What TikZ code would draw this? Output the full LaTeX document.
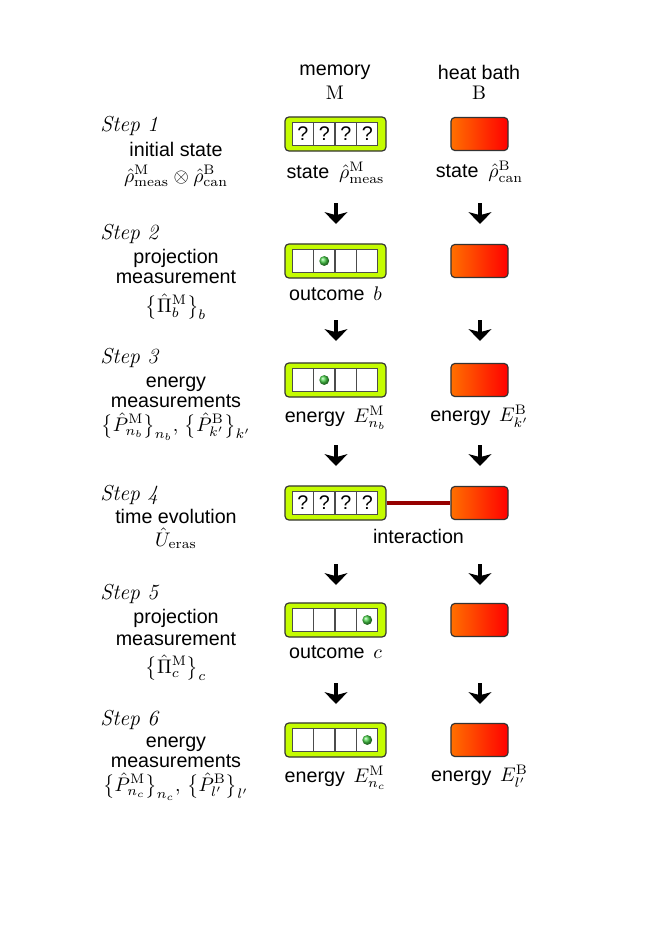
\documentclass[tikz,border=0pt]{standalone}
\usepackage{fontspec}
\setsansfont{Liberation Sans}
\usetikzlibrary{arrows.meta,positioning}

\definecolor{memgreen}{RGB}{196,252,0}
\definecolor{bathorange}{RGB}{255,112,0}
\definecolor{bathred}{RGB}{255,0,0}
\definecolor{linkred}{RGB}{150,0,0}
\definecolor{dotgreen}{RGB}{70,205,70}

\tikzset{
  membox/.style={draw=black!80, fill=memgreen, rounded corners=2pt, line width=0.6pt,
    minimum width=51.3pt, minimum height=17.3pt, inner sep=0pt},
  cell/.style={draw=black!70, fill=white, line width=0.5pt,
    minimum width=10.9pt, minimum height=11.2pt, inner sep=0pt},
  bath/.style={draw=black!80, rounded corners=2pt, line width=0.6pt,
    left color=bathorange, right color=bathred,
    minimum width=29pt, minimum height=16.8pt, inner sep=0pt},
  bit/.style={circle, inner sep=0pt, minimum size=5pt, shading=ball, ball color=dotgreen},
  qmark/.style={font=\sffamily, inner sep=0pt},
  head/.style={font=\sffamily},
  lab/.style={font=\sffamily, inner sep=1pt},
  stepname/.style={anchor=base west, font=\fontsize{11}{13}\selectfont\itshape, inner sep=0pt},
  desc/.style={anchor=base, font=\sffamily, inner sep=0pt},
  steparrow/.style={line width=2.5pt, -{Stealth[length=6pt, width=11.5pt, inset=1.5pt]}},
  link/.style={linkred, line width=2pt},
}

\begin{document}
\begin{tikzpicture}[x=0.508pt, y=-0.508pt]
\useasboundingbox (0,0) rectangle (655,926);

% column heads
\node[head] (memhead) at (335,72) {memory};
\node (memsym) at (335,93) {$\mathrm{M}$};
\node[head] (bathhead) at (479,72) {heat bath};
\node (bathsym) at (479,93) {$\mathrm{B}$};

% memory registers and heat bath, one row per step
\foreach \y [count=\r] in {134,261,380,503,620,740} {
  \node[membox] (mem\r) at (335.5,\y) {};
  \foreach \i in {1,...,4}
    \node[cell] (mem\r-\i) at (281.25+21.5*\i,\y) {};
  \node[bath] (bath\r) at (479.5,\y) {};
}

% unknown bits
\foreach \r in {1,4}
  \foreach \i in {1,...,4}
    \node[qmark] (q\r-\i) at (mem\r-\i) {?};

% measured bits
\node[bit] (bit2) at (mem2-2) {};
\node[bit] (bit3) at (mem3-2) {};
\node[bit] (bit5) at (mem5-4) {};
\node[bit] (bit6) at (mem6-4) {};

% coupling
\draw[link] (mem4.east) -- (bath4.west);
\node[desc] (interlab) at (418.5,543) {interaction};

% labels under the boxes
\node[lab, below=4pt of mem1] (memlab1) {state\enspace$\hat{\rho}^{\mathrm{M}}_{\mathrm{meas}}$};
\node[lab, below=4pt of bath1] (bathlab1) {state\enspace$\hat{\rho}^{\mathrm{B}}_{\mathrm{can}}$};
\node[lab, below=3pt of mem2] (memlab2) {outcome\ \,$b$};
\node[lab, below=3pt of mem3] (memlab3) {energy\ \,$E^{\mathrm{M}}_{n_b}$};
\node[lab, below=3pt of bath3] (bathlab3) {energy\ \,$E^{\mathrm{B}}_{k'}$};
\node[lab, below=3pt of mem5] (memlab5) {outcome\ \,$c$};
\node[lab, below=3pt of mem6] (memlab6) {energy\ \,$E^{\mathrm{M}}_{n_c}$};
\node[lab, below=3pt of bath6] (bathlab6) {energy\ \,$E^{\mathrm{B}}_{l'}$};

% arrows between the steps
\foreach \y [count=\i] in {213,330,455,574,693} {
  \coordinate (mtop\i) at (336,\y-10);
  \coordinate (mbot\i) at (336,\y+11);
  \coordinate (btop\i) at (480,\y-10);
  \coordinate (bbot\i) at (480,\y+11);
  \draw[steparrow] (mtop\i) -- (mbot\i);
  \draw[steparrow] (btop\i) -- (bbot\i);
}

% step descriptions
\node[stepname] (step1) at (100,131) {Step 1};
\node[desc] (desc1a) at (176,156) {initial state};
\node[desc] (desc1b) at (176,182) {$\hat{\rho}^{\mathrm{M}}_{\mathrm{meas}}\otimes\hat{\rho}^{\mathrm{B}}_{\mathrm{can}}$};

\node[stepname] (step2) at (100,239) {Step 2};
\node[desc] (desc2a) at (176,263) {projection};
\node[desc] (desc2b) at (176,283) {measurement};
\node[desc] (desc2c) at (176,312) {$\bigl\{\hat{\Pi}^{\mathrm{M}}_{b}\bigr\}_{b}$};

\node[stepname] (step3) at (100,363) {Step 3};
\node[desc] (desc3a) at (176,387) {energy};
\node[desc] (desc3b) at (176,407) {measurements};
\node[desc] (desc3c) at (176,431) {$\bigl\{\hat{P}^{\mathrm{M}}_{n_b}\bigr\}_{n_b},\,\bigl\{\hat{P}^{\mathrm{B}}_{k'}\bigr\}_{k'}$};

\node[stepname] (step4) at (100,500) {Step 4};
\node[desc] (desc4a) at (176,523) {time evolution};
\node[desc] (desc4b) at (176,546) {$\hat{U}_{\mathrm{eras}}$};

\node[stepname] (step5) at (100,599) {Step 5};
\node[desc] (desc5a) at (176,623) {projection};
\node[desc] (desc5b) at (176,645) {measurement};
\node[desc] (desc5c) at (176,673) {$\bigl\{\hat{\Pi}^{\mathrm{M}}_{c}\bigr\}_{c}$};

\node[stepname] (step6) at (100,725) {Step 6};
\node[desc] (desc6a) at (176,747) {energy};
\node[desc] (desc6b) at (176,767) {measurements};
\node[desc] (desc6c) at (176,791) {$\bigl\{\hat{P}^{\mathrm{M}}_{n_c}\bigr\}_{n_c},\,\bigl\{\hat{P}^{\mathrm{B}}_{l'}\bigr\}_{l'}$};
\end{tikzpicture}
\end{document}
